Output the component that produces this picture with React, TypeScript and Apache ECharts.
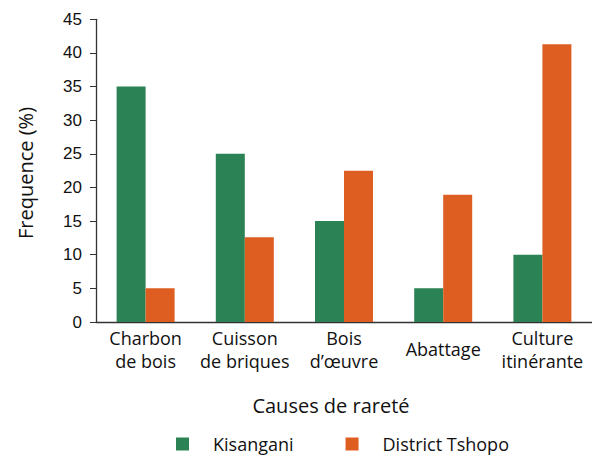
import React, { useEffect, useRef } from "react";
import * as echarts from "echarts";

const categories = ["Charbon\nde bois", "Cuisson\nde briques", "Bois\nd’œuvre", "Abattage", "Culture\nitinérante"];
const kisangani = [35, 25, 15, 5, 10];
const tshopo = [5, 12.6, 22.5, 18.9, 41.3];
const yTicks = { min: 0, max: 45, interval: 5 };
const seriesNames = ["Kisangani", "District Tshopo"];

const GREEN = "#2A8255";
const ORANGE = "#DE5D21";
const FONT = "'Open Sans', 'Noto Sans', sans-serif";

export default function App() {
  const ref = useRef<HTMLDivElement>(null);
  useEffect(() => {
    if (!ref.current) return;
    const chart = echarts.init(ref.current, null, { renderer: "svg" });
    chart.setOption({
      animation: false,
      grid: { left: 96, right: 0, top: 19.3, bottom: 133 },
      legend: {
        left: 171,
        top: 430,
        itemWidth: 13,
        itemHeight: 13,
        itemGap: 52,
        icon: "rect",
        textStyle: { fontFamily: FONT, fontSize: 18, color: "#111", padding: [0, 0, 0, 19] },
        data: seriesNames,
      },
      xAxis: {
        type: "category",
        data: categories,
        axisLine: { lineStyle: { color: "#333", width: 1.3 } },
        axisTick: { length: 5, lineStyle: { color: "#333" } },
        axisLabel: {
          interval: 0,
          fontFamily: FONT,
          fontSize: 18,
          lineHeight: 23,
          color: "#111",
          verticalAlign: "middle",
          margin: 27,
        },
      },
      yAxis: {
        type: "value",
        min: yTicks.min,
        max: yTicks.max,
        interval: yTicks.interval,
        splitLine: { show: false },
        axisLine: { show: true, lineStyle: { color: "#333", width: 1.3 } },
        axisTick: { show: true, length: 6, lineStyle: { color: "#333" } },
        axisLabel: { fontFamily: "'Liberation Sans', Arial, sans-serif", fontSize: 17, color: "#111", margin: 14 },
      },
      graphic: [
        {
          type: "text",
          x: 25,
          y: 173,
          rotation: Math.PI / 2,
          style: {
            text: "Frequence (%)",
            fontFamily: FONT,
            fontSize: 20,
            fill: "#111",
            align: "center",
            verticalAlign: "middle",
          },
        },
        {
          type: "text",
          x: 331,
          y: 405,
          style: {
            text: "Causes de rareté",
            fontFamily: FONT,
            fontSize: 20,
            fill: "#111",
            align: "center",
            verticalAlign: "middle",
          },
        },
      ],
      series: [
        { name: seriesNames[0], type: "bar", data: kisangani, barWidth: 29, barGap: "0%", itemStyle: { color: GREEN } },
        { name: seriesNames[1], type: "bar", data: tshopo, barWidth: 29, barGap: "0%", itemStyle: { color: ORANGE } },
      ],
    });
    return () => chart.dispose();
  }, []);
  return <div ref={ref} style={{ width: 592, height: 455, position: "absolute", left: 0, top: 0 }} />;
}
